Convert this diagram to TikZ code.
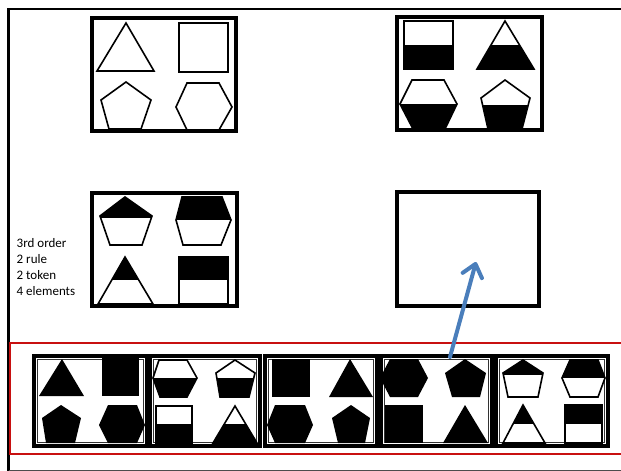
\documentclass[tikz,border=0pt]{standalone}
\usepackage{fontspec}
\setmainfont{Carlito}
\usetikzlibrary{arrows.meta}
\definecolor{arrowblue}{RGB}{74,126,187}
\definecolor{framered}{RGB}{200,16,16}
\newcommand\hfshape[3]{\begin{scope}\clip #1 -- cycle;\fill[black] (0,#2) rectangle (621,#3);\end{scope}\draw[shp] #1 -- cycle;}
\newcommand\bigpanel[5]{\node[panel,minimum width={#4-#2},minimum height={#5-#3}] (#1) at ({(#2+#4)/2},{(#3+#5)/2}) {};}
\newcommand\smallpanel[5]{\node[spanel,minimum width={#4-#2},minimum height={#5-#3}] (#1) at ({(#2+#4)/2},{(#3+#5)/2}) {};
 \draw[black!80,line width=0.6pt] ([shift={(3.6pt,-3.6pt)}]#1.north west) rectangle ([shift={(-3.6pt,3.6pt)}]#1.south east);}
\begin{document}
\begin{tikzpicture}[x=1pt,y=-1pt,
 panel/.style={draw=black,line width=3.5pt,inner sep=0pt,outer sep=0pt},
 spanel/.style={draw=black,line width=3.2pt,inner sep=0pt,outer sep=0pt},
 shp/.style={draw=black,line width=1.6pt,line join=miter},
 lbl/.style={font=\fontsize{13}{16}\selectfont,align=left,inner sep=0pt,anchor=north west}]
\useasboundingbox (0,0) rectangle (621,471);
% outer frame
\draw[line width=2.5pt] (8.5,471) -- (8.5,9) -- (621,9);
\draw[black!70,line width=1pt] (8.5,470) -- (621,470);
% red answer strip
\draw[framered,line width=1.6pt] (625,343) -- (10,343) -- (10,454) -- (625,454);
% matrix panels
\bigpanel{A}{92}{18}{236}{131}
\bigpanel{B}{397}{17}{542}{130}
\bigpanel{C}{92}{193}{237}{306}
\bigpanel{D}{397}{192}{539}{306}
% panel A
\draw[shp] (97,71) -- (126,23) -- (154,71) -- cycle;
\draw[shp] (179,23) -- (228,23) -- (228,72) -- (179,72) -- cycle;
\draw[shp] (126,82) -- (151,100) -- (141,129) -- (109,129) -- (101,100) -- cycle;
\draw[shp] (187,83) -- (219,83) -- (232,107) -- (219,130) -- (187,130) -- (176,107) -- cycle;
% panel B
\hfshape{(404,21) -- (453,21) -- (453,69) -- (404,69)}{45}{70}
\hfshape{(477,69) -- (505,21) -- (534,69)}{45}{70}
\hfshape{(412,80) -- (444,80) -- (457,104) -- (445,129) -- (413,129) -- (400,104)}{104}{130}
\hfshape{(505,80) -- (530,98) -- (522,129) -- (488,129) -- (481,98)}{105}{130}
% panel C
\hfshape{(125,197) -- (152,216) -- (142,245) -- (110,245) -- (100,216)}{190}{218}
\hfshape{(182,197) -- (222,197) -- (231,220) -- (221,245) -- (183,245) -- (176,220)}{190}{220}
\hfshape{(98,304) -- (125,257) -- (153,304)}{250}{280}
\hfshape{(179,257) -- (228,257) -- (228,304) -- (179,304)}{250}{280}
% label
\node[lbl] (txt) at (16.5,238) {3rd order\\2 rule\\2 token\\4 elements};
% answer panels
\smallpanel{b1}{34}{356}{147}{446}
\smallpanel{b2}{150}{356}{260}{446}
\smallpanel{b3}{265}{356}{377}{446}
\smallpanel{b4}{381}{356}{492}{446}
\smallpanel{b5}{496}{356}{608}{446}
\begin{scope}
\clip (35.5,357.5) rectangle (145.5,444.5);
\fill (39,396) -- (62,359) -- (84,396) -- cycle;
\fill (102,358) rectangle (139,396);
\fill (61,405) -- (81,418) -- (75,443) -- (46,443) -- (42,418) -- cycle;
\fill (108,405) -- (137,405) -- (145,425) -- (137,443) -- (108,443) -- (99,425) -- cycle;
\end{scope}
\begin{scope}
\clip (151.5,357.5) rectangle (258.5,444.5);
\hfshape{(159,360) -- (187,360) -- (197,378) -- (187,397) -- (160,397) -- (153,378)}{378}{398}
\hfshape{(235,360) -- (255,373) -- (249,397) -- (220,397) -- (216,373)}{378}{398}
\hfshape{(156,406) -- (192,406) -- (192,443) -- (156,443)}{424}{444}
\hfshape{(213,443) -- (235,406) -- (257,443)}{424}{444}
\end{scope}
\begin{scope}
\clip (266.5,357.5) rectangle (375.5,444.5);
\fill (272,359) rectangle (310,397);
\fill (329,397) -- (350,359) -- (373,397) -- cycle;
\fill (275,405) -- (305,405) -- (313,425) -- (305,443) -- (275,443) -- (267,425) -- cycle;
\fill (351,405) -- (370,418) -- (365,443) -- (338,443) -- (332,418) -- cycle;
\end{scope}
\begin{scope}
\clip (382.5,357.5) rectangle (490.5,444.5);
\fill (390,359) -- (418,359) -- (428,378) -- (418,397) -- (390,397) -- (380,378) -- cycle;
\fill (465,359) -- (486,373) -- (480,397) -- (452,397) -- (445,373) -- cycle;
\fill (385,405) rectangle (423,443);
\fill (443,443) -- (465,405) -- (488,443) -- cycle;
\end{scope}
\begin{scope}
\clip (497.5,357.5) rectangle (606.5,444.5);
\hfshape{(523,360) -- (543,373) -- (538,397) -- (508,397) -- (503,373)}{355}{375}
\hfshape{(570,360) -- (598,360) -- (605,378) -- (598,397) -- (570,397) -- (562,378)}{355}{378}
\hfshape{(503,443) -- (523,405) -- (545,443)}{400}{424}
\hfshape{(565,405) -- (602,405) -- (602,443) -- (565,443)}{400}{424}
\end{scope}
% arrow
\coordinate (arrS) at (450,357);
\coordinate (arrE) at (476,262);
\draw[arrowblue,line width=4pt,line cap=round,-{Straight Barb[length=12pt,width=20pt,line cap=round,line join=round]}] (arrS) -- (arrE);
\end{tikzpicture}
\end{document}
